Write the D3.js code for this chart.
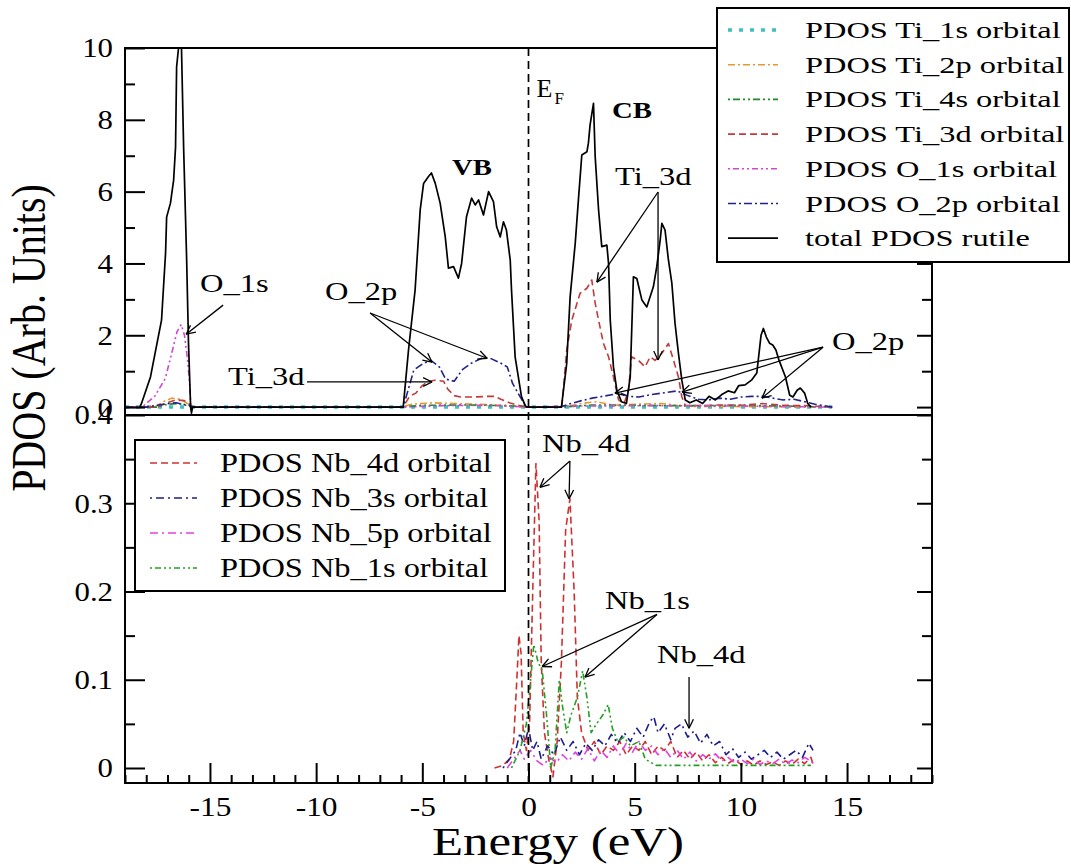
<!DOCTYPE html>
<html><head><meta charset="utf-8">
<script src="https://cdn.jsdelivr.net/npm/d3@7"></script>
<style>
body{margin:0;background:#fff;}
svg text{font-family:"Liberation Serif","Times New Roman",serif;fill:#000;}
</style></head><body>
<svg id="c" width="1071" height="867"></svg>
<script>
// ---------------- DATA ----------------
const xMajor = [-15,-10,-5,0,5,10,15];
const xMajorLabels = ["-15","-10","-5","0","5","10","15"];
const xMinor = [-19,-18,-17,-16,-14,-13,-12,-11,-9,-8,-7,-6,-4,-3,-2,-1,1,2,3,4,6,7,8,9,11,12,13,14,16,17,18,19];
const topMajor = [0,2,4,6,8,10];
const topMajorLabels = ["0","2","4","6","8","10"];
const topMinor = [1,3,5,7,9];
const botMajor = [0,0.1,0.2,0.3,0.4];
const botMajorLabels = ["0","0.1","0.2","0.3","0.4"];
const botMinor = [0.05,0.15,0.25,0.35];
const fermiLevel = [0];

const topNames = ["PDOS Ti_1s orbital","PDOS Ti_2p orbital","PDOS Ti_4s orbital","PDOS Ti_3d orbital","PDOS O_1s orbital","PDOS O_2p orbital","total PDOS rutile"];
const botNames = ["PDOS Nb_4d orbital","PDOS Nb_3s orbital","PDOS Nb_5p orbital","PDOS Nb_1s orbital"];

const ti1s = [[-19,0],[14.3,0]];
const ti2p = [[-19,0],[-17.6,0],[-17.2,0.15],[-16.8,0.25],[-16.4,0.22],[-16.0,0.08],[-15.8,0],[-6,0],[-5.5,0.08],[-4.5,0.12],[-3.5,0.1],[-2.5,0.08],[-1.5,0.06],[-0.5,0.02],[0,0],[1.6,0],[2.5,0.1],[3.2,0.15],[4,0.05],[5,0.08],[6.3,0.1],[7.2,0.03],[8,0.02],[14.3,0]];
const ti4s = [[-19,0],[-17.5,0],[-17,0.08],[-16.5,0.1],[-16,0.03],[-15.8,0],[-6,0],[-5,0.05],[-3,0.06],[-1,0.04],[0,0],[1.6,0],[3,0.06],[5,0.05],[7,0.04],[10,0.05],[12,0.03],[14.3,0]];
const ti3d = [[-19,0],[-17.5,0],[-17.0,0.12],[-16.6,0.2],[-16.2,0.18],[-15.9,0.05],[-15.8,0],[-5.9,0],[-5.6,0.3],[-5.3,0.39],[-5.0,0.6],[-4.7,0.72],[-4.4,0.75],[-4.0,0.72],[-3.8,0.5],[-3.5,0.32],[-3.2,0.28],[-2.6,0.28],[-1.9,0.3],[-1.6,0.3],[-1.3,0.22],[-0.9,0.12],[-0.5,0.05],[-0.1,0],[1.57,0],[1.8,1.59],[2.04,2.42],[2.43,3.17],[2.75,3.31],[2.98,3.54],[3.14,2.89],[3.3,2.42],[3.53,1.77],[3.77,1.4],[4.0,0.84],[4.24,0.2],[4.5,0.1],[4.71,0.47],[4.85,1.4],[5.18,1.3],[5.49,1.12],[5.73,1.4],[5.96,1.3],[6.28,1.5],[6.59,1.77],[6.83,1.3],[7.06,0.84],[7.22,0.29],[7.38,0.05],[8,0.04],[9,0.06],[10,0.05],[11,0.1],[12,0.05],[13,0.04],[14.3,0]];
const o1s = [[-19,0],[-18.2,0],[-17.6,0.3],[-17.1,0.8],[-16.8,1.5],[-16.55,2.1],[-16.35,2.3],[-16.2,2.0],[-16.05,1.3],[-15.95,0.6],[-15.9,0],[-6,0],[-4,0.04],[-2,0.05],[0,0],[2,0.03],[6,0.04],[10,0.03],[14.3,0]];
const o2p = [[-19,0],[-18,0],[-17.2,0.08],[-16.6,0.12],[-16,0.05],[-15.8,0],[-5.9,0],[-5.4,1.03],[-5.0,1.2],[-4.6,1.3],[-4.2,1.12],[-3.9,0.78],[-3.5,0.72],[-3.1,1.05],[-2.7,1.22],[-2.2,1.36],[-1.8,1.36],[-1.3,1.22],[-1.0,1.12],[-0.75,0.66],[-0.4,0.29],[-0.1,0],[1.5,0],[2.0,0.1],[2.5,0.18],[3.0,0.25],[3.5,0.3],[4.0,0.35],[4.3,0.4],[4.7,0.3],[5.2,0.28],[5.8,0.35],[6.4,0.4],[7.0,0.45],[7.5,0.32],[8.0,0.22],[8.5,0.2],[9.0,0.25],[9.5,0.22],[10.0,0.28],[10.5,0.3],[11.0,0.3],[11.5,0.25],[12.0,0.2],[12.5,0.22],[13.0,0.15],[13.5,0.08],[14.3,0]];
const totalRutile = [[-18.3,0],[-18.22,0.11],[-17.8,0.84],[-17.28,2.42],[-17.09,4.29],[-17.04,5.29],[-16.86,5.68],[-16.71,6.32],[-16.62,7.24],[-16.57,9.47],[-16.48,10],[-16.34,10],[-16.24,7.24],[-16.1,4.18],[-16.01,1.78],[-15.91,0],[-15.87,-0.17],[-15.82,0],[-5.9,0],[-5.65,1.59],[-5.34,3.26],[-5.1,5.49],[-4.94,6.23],[-4.71,6.42],[-4.57,6.52],[-4.39,6.23],[-4.16,5.68],[-3.92,4.74],[-3.77,3.87],[-3.53,3.91],[-3.3,3.59],[-3.15,4.0],[-2.92,5.3],[-2.68,5.82],[-2.51,5.63],[-2.35,5.77],[-2.12,5.35],[-1.88,6.0],[-1.65,5.72],[-1.5,5.02],[-1.33,4.74],[-1.18,5.16],[-1.04,4.93],[-0.86,4.09],[-0.8,3.26],[-0.63,1.4],[-0.33,0.29],[-0.16,0.05],[-0.1,0],[1.55,0],[1.8,1.22],[1.96,3.07],[2.2,4.56],[2.35,5.77],[2.51,7.02],[2.75,7.11],[2.82,7.35],[2.9,7.86],[3.06,8.46],[3.14,6.97],[3.3,5.49],[3.45,4.47],[3.69,4.51],[3.77,4.0],[3.85,2.42],[4.0,1.12],[4.16,0.47],[4.38,0.15],[4.61,0.1],[4.79,0.84],[4.94,3.63],[5.1,3.58],[5.34,2.98],[5.57,2.79],[5.88,3.35],[6.04,3.91],[6.2,4.65],[6.28,5.12],[6.43,4.93],[6.59,4.09],[6.75,3.45],[6.9,2.33],[7.06,1.5],[7.22,0.75],[7.38,0.2],[7.6,0.12],[7.9,0.2],[8.2,0.1],[8.5,0.3],[8.8,0.2],[9.1,0.35],[9.4,0.45],[9.7,0.4],[9.9,0.6],[10.2,0.62],[10.5,0.75],[10.75,0.95],[10.95,2.0],[11.06,2.19],[11.2,1.95],[11.35,1.78],[11.5,1.73],[11.65,1.59],[11.8,1.3],[12.1,0.84],[12.3,0.33],[12.45,0.28],[12.65,0.47],[12.8,0.53],[13.0,0.39],[13.15,0.1],[13.3,0]];

const nb4d = [[-1.6,0],[-1.2,0.003],[-0.9,0.01],[-0.7,0.03],[-0.55,0.1],[-0.45,0.15],[-0.35,0.13],[-0.25,0.04],[-0.1,0.02],[0.05,0.05],[0.2,0.2],[0.35,0.345],[0.5,0.28],[0.6,0.12],[0.75,0.04],[0.95,0.01],[1.15,-0.01],[1.35,0.03],[1.55,0.12],[1.75,0.27],[1.95,0.305],[2.15,0.2],[2.3,0.08],[2.5,0.04],[2.8,0.02],[3.1,0.03],[3.4,0.015],[3.7,0.025],[4.0,0.02],[4.3,0.03],[4.6,0.015],[4.9,0.025],[5.2,0.02],[5.5,0.03],[5.8,0.015],[6.1,0.025],[6.4,0.02],[6.7,0.03],[7.0,0.012],[7.3,0.02],[7.6,0.01],[7.9,0.018],[8.2,0.008],[8.5,0.015],[8.8,0.006],[9.1,0.012],[9.4,0.005],[9.7,0.01],[10.0,0.004],[10.3,0.008],[10.6,0.003],[10.9,0.008],[11.2,0.004],[11.5,0.007],[11.8,0.003],[12.1,0.008],[12.4,0.004],[12.7,0.01],[13.0,0.005],[13.3,0.012],[13.4,0.004]];
const nb3s = [[-1.2,0],[-0.9,0.01],[-0.6,0.02],[-0.4,0.04],[-0.2,0.025],[0,0.045],[0.2,0.02],[0.4,0.03],[0.6,0.01],[0.9,0.025],[1.2,0.015],[1.5,0.035],[1.8,0.02],[2.1,0.03],[2.4,0.015],[2.7,0.028],[3.0,0.02],[3.3,0.032],[3.6,0.025],[3.9,0.038],[4.2,0.028],[4.5,0.04],[4.8,0.03],[5.1,0.045],[5.4,0.035],[5.7,0.052],[5.9,0.058],[6.1,0.04],[6.4,0.05],[6.7,0.032],[6.9,0.045],[7.2,0.05],[7.5,0.035],[7.8,0.042],[8.1,0.028],[8.4,0.038],[8.7,0.025],[9.0,0.03],[9.3,0.015],[9.6,0.022],[9.9,0.012],[10.2,0.018],[10.5,0.01],[10.8,0.015],[11.1,0.02],[11.4,0.012],[11.7,0.018],[12.0,0.01],[12.3,0.015],[12.6,0.02],[12.9,0.012],[13.2,0.028],[13.4,0.02]];
const nb5p = [[-1.0,0],[-0.7,0.01],[-0.4,0.02],[-0.2,0.01],[0.1,0.02],[0.4,0.008],[0.7,0.003],[1.0,0.012],[1.3,0.006],[1.6,0.015],[1.9,0.008],[2.2,0.018],[2.5,0.01],[2.8,0.022],[3.1,0.008],[3.4,0.02],[3.7,0.012],[4.0,0.025],[4.3,0.015],[4.6,0.028],[4.9,0.018],[5.2,0.03],[5.5,0.02],[5.8,0.025],[6.1,0.015],[6.4,0.022],[6.7,0.012],[7.0,0.02],[7.3,0.01],[7.6,0.018],[7.9,0.008],[8.2,0.015],[8.5,0.01],[8.8,0.016],[9.1,0.008],[9.4,0.012],[9.7,0.006],[10.0,0.01],[10.3,0.005],[10.6,0.01],[10.9,0.004],[11.2,0.008],[11.5,0.005],[11.8,0.01],[12.1,0.004],[12.4,0.009],[12.7,0.006],[13.0,0.012],[13.3,0.008],[13.4,0.005]];
const nb1s = [[-0.8,0],[-0.4,0.02],[-0.1,0.05],[0.1,0.1],[0.25,0.14],[0.45,0.12],[0.65,0.11],[0.85,0.06],[1.05,0.0],[1.25,0.02],[1.45,0.1],[1.6,0.07],[1.8,0.04],[2.0,0.06],[2.3,0.08],[2.55,0.11],[2.75,0.08],[2.95,0.04],[3.2,0.05],[3.5,0.06],[3.75,0.072],[3.95,0.045],[4.2,0.03],[4.5,0.035],[4.8,0.025],[5.2,0.03],[5.5,0.01],[6,0.003],[8,0.003],[10,0.003],[12,0.003],[13.3,0.003]];

// annotations (data coordinates)
const topNotes = [
 {text:"O_1s", e:-15.47, v:3.2},
 {text:"Ti_3d", e:-14.15, v:0.61},
 {text:"O_2p", e:-9.58, v:2.98},
 {text:"VB", e:-3.6, v:6.46, bold:true},
 {text:"CB", e:3.93, v:8.05, bold:true},
 {text:"Ti_3d", e:4.07, v:6.18},
 {text:"O_2p", e:14.29, v:1.59}
];
const topArrows = [
 [-14.38,2.84,-16.12,2.03],
 [-10.43,0.70,-4.54,0.70],
 [-7.46,2.62,-4.54,1.25],
 [-7.46,2.62,-1.95,1.36],
 [6.1,5.99,3.22,3.48],
 [6.1,5.99,6.1,1.31],
 [13.87,1.67,4.07,0.39],
 [13.87,1.67,7.23,0.42],
 [13.87,1.67,10.99,0.25]
];
const botNotes = [
 {text:"Nb_4d", e:0.64, v:0.358},
 {text:"Nb_1s", e:3.6, v:0.18},
 {text:"Nb_4d", e:6.05, v:0.119}
];
const botArrows = [
 [1.95,0.348,0.54,0.318],
 [1.95,0.348,1.91,0.305],
 [6.05,0.174,0.64,0.115],
 [6.05,0.174,2.66,0.103],
 [7.56,0.103,7.56,0.045]
];

// ---------------- STYLES ----------------
const topSeries = [
 {data:ti1s, color:"#3fbfbf", dash:"4,7", w:3.5},
 {data:ti2p, color:"#e39a35", dash:"7,3,2,3", w:1.6},
 {data:ti4s, color:"#1f8a2a", dash:"2,3,7,3,2,3", w:1.6},
 {data:ti3d, color:"#c43a3a", dash:"7,4", w:1.6},
 {data:o1s, color:"#d246d2", dash:"2,3,6,3,2,3", w:1.6},
 {data:o2p, color:"#23238f", dash:"8,3,2,3", w:1.6},
 {data:totalRutile, color:"#000", dash:null, w:1.7}
];
const botSeries = [
 {data:nb4d, color:"#cf3030", dash:"7,4", w:1.6},
 {data:nb3s, color:"#1c1c8c", dash:"2,4,8,4", w:1.6},
 {data:nb5p, color:"#e040e0", dash:"8,4,2,4", w:1.6},
 {data:nb1s, color:"#23a023", dash:"2,3,6,3,2,3", w:1.6}
];

// ---------------- DRAW ----------------
const svg = d3.select("#c");
svg.append("rect").attr("width",1071).attr("height",867).attr("fill","#fff");
const L=125, R=932, T=48, M=415, B=783;
const x = d3.scaleLinear().domain([-19,19]).range([L,R]);
const yT = d3.scaleLinear().domain([-0.22,10]).range([M,T]);
const yB = d3.scaleLinear().domain([-0.017,0.4]).range([B,M]);

const defs = svg.append("defs");
defs.append("clipPath").attr("id","clipT").append("rect").attr("x",L).attr("y",T-1).attr("width",R-L).attr("height",M-T+1);
defs.append("clipPath").attr("id","clipB").append("rect").attr("x",L).attr("y",M).attr("width",R-L).attr("height",B-M);

function stretch(sel,k){
  sel.each(function(){
    const w=this.getComputedTextLength();
    d3.select(this).attr("textLength",w*k).attr("lengthAdjust","spacingAndGlyphs");
  });
}

function drawSeries(clip, yS, list){
  const g = svg.append("g").attr("clip-path",`url(#${clip})`);
  const line = d3.line().x(d=>x(d[0])).y(d=>yS(d[1]));
  list.forEach(s=>{
    g.append("path").datum(s.data).attr("d",line).attr("fill","none")
     .attr("stroke",s.color).attr("stroke-width",s.w).attr("stroke-dasharray",s.dash)
     .attr("stroke-linejoin","round");
  });
}
drawSeries("clipT", yT, topSeries);
drawSeries("clipB", yB, botSeries);

// Fermi level
svg.append("g").selectAll("line").data(fermiLevel).join("line")
  .attr("x1",d=>x(d)).attr("x2",d=>x(d)).attr("y1",T).attr("y2",B)
  .attr("stroke","#000").attr("stroke-width",1.7).attr("stroke-dasharray","8,5");

// axes
function styleAxis(g){
  g.select(".domain").remove();
  g.selectAll(".tick line").attr("stroke","#000").attr("stroke-width",2);
  g.selectAll("text").attr("font-family",'"Liberation Serif",serif').attr("font-size",28).attr("fill","#000");
}
function yAxes(yS, major, labels, minor){
  svg.append("g").attr("transform",`translate(${L},0)`)
    .call(d3.axisLeft(yS).tickValues(major).tickSizeInner(-20).tickSizeOuter(0).tickPadding(12).tickFormat((d,i)=>labels[i]))
    .call(styleAxis).call(g=>stretch(g.selectAll("text"),1.1));
  svg.append("g").attr("transform",`translate(${L},0)`)
    .call(d3.axisLeft(yS).tickValues(minor).tickSize(-10).tickFormat("")).call(styleAxis);
  svg.append("g").attr("transform",`translate(${R},0)`)
    .call(d3.axisRight(yS).tickValues(major).tickSize(-15).tickFormat("")).call(styleAxis);
  svg.append("g").attr("transform",`translate(${R},0)`)
    .call(d3.axisRight(yS).tickValues(minor).tickSize(-10).tickFormat("")).call(styleAxis);
}
yAxes(yT, topMajor, topMajorLabels, topMinor);
yAxes(yB, botMajor, botMajorLabels, botMinor);

svg.append("g").attr("transform",`translate(0,${B})`)
  .call(d3.axisBottom(x).tickValues(xMajor).tickSizeInner(-20).tickSizeOuter(0).tickPadding(13).tickFormat((d,i)=>xMajorLabels[i]))
  .call(styleAxis).call(g=>stretch(g.selectAll("text"),1.12));
svg.append("g").attr("transform",`translate(0,${B})`)
  .call(d3.axisBottom(x).tickValues(xMinor).tickSize(-8).tickFormat("")).call(styleAxis);

// frames
svg.append("rect").attr("x",L).attr("y",T).attr("width",R-L).attr("height",M-T).attr("fill","none").attr("stroke","#000").attr("stroke-width",2);
svg.append("rect").attr("x",L).attr("y",M).attr("width",R-L).attr("height",B-M).attr("fill","none").attr("stroke","#000").attr("stroke-width",2);

// axis titles
svg.append("text").attr("transform","translate(45,338) scale(1.2,1) rotate(-90)")
  .attr("font-size",40).attr("text-anchor","middle").text("PDOS  (Arb. Units)");
svg.append("text").attr("x",432).attr("y",855).attr("font-size",39)
  .attr("textLength",252).attr("lengthAdjust","spacingAndGlyphs").text("Energy  (eV)");

// arrows
function arrow(x1,y1,x2,y2){
  const g = svg.append("g").attr("stroke","#000").attr("stroke-width",1.3).attr("fill","none");
  g.append("line").attr("x1",x1).attr("y1",y1).attr("x2",x2).attr("y2",y2);
  const a = Math.atan2(y2-y1,x2-x1), h=10, s=0.45;
  [a+Math.PI-s, a+Math.PI+s].forEach(b=>{
    g.append("line").attr("x1",x2).attr("y1",y2).attr("x2",x2+h*Math.cos(b)).attr("y2",y2+h*Math.sin(b));
  });
}
topArrows.forEach(a=>arrow(x(a[0]),yT(a[1]),x(a[2]),yT(a[3])));
botArrows.forEach(a=>arrow(x(a[0]),yB(a[1]),x(a[2]),yB(a[3])));

function notes(list, yS){
  list.forEach(n=>{
    const t = svg.append("text").attr("x",x(n.e)).attr("y",yS(n.v))
      .attr("font-size",n.bold?23:25).attr("font-weight",n.bold?"bold":"normal").text(n.text);
    stretch(t, n.bold?1.25:1.3);
  });
}
notes(topNotes, yT);
notes(botNotes, yB);

// E_F label
const ef = svg.append("g");
ef.append("text").attr("x",x(0)+8).attr("y",yT(8.64)).attr("font-size",26).text("E");
ef.append("text").attr("x",x(0)+26).attr("y",yT(8.64)+7).attr("font-size",17).text("F");

// legends
function legend(names, series, bx, by, bw, bh, sx1, sx2, tx, base0, step, fs, k, off){
  svg.append("rect").attr("x",bx).attr("y",by).attr("width",bw).attr("height",bh)
    .attr("fill","#fff").attr("stroke","#000").attr("stroke-width",2);
  names.forEach((nm,i)=>{
    const yb = base0 + step*i;
    const s = series[i];
    svg.append("line").attr("x1",sx1).attr("x2",sx2).attr("y1",yb-off).attr("y2",yb-off)
      .attr("stroke",s.color).attr("stroke-width",s.w).attr("stroke-dasharray",s.dash);
    const t = svg.append("text").attr("x",tx).attr("y",yb).attr("font-size",fs).text(nm);
    stretch(t,k);
  });
}
legend(topNames, topSeries, 717, 8, 352, 254, 728, 778, 805, 38, 34.7, 24, 1.35, 8);
legend(botNames, botSeries, 135, 440, 370, 151, 150, 197, 220, 472, 35, 27, 1.2, 9);
</script>
</body></html>
